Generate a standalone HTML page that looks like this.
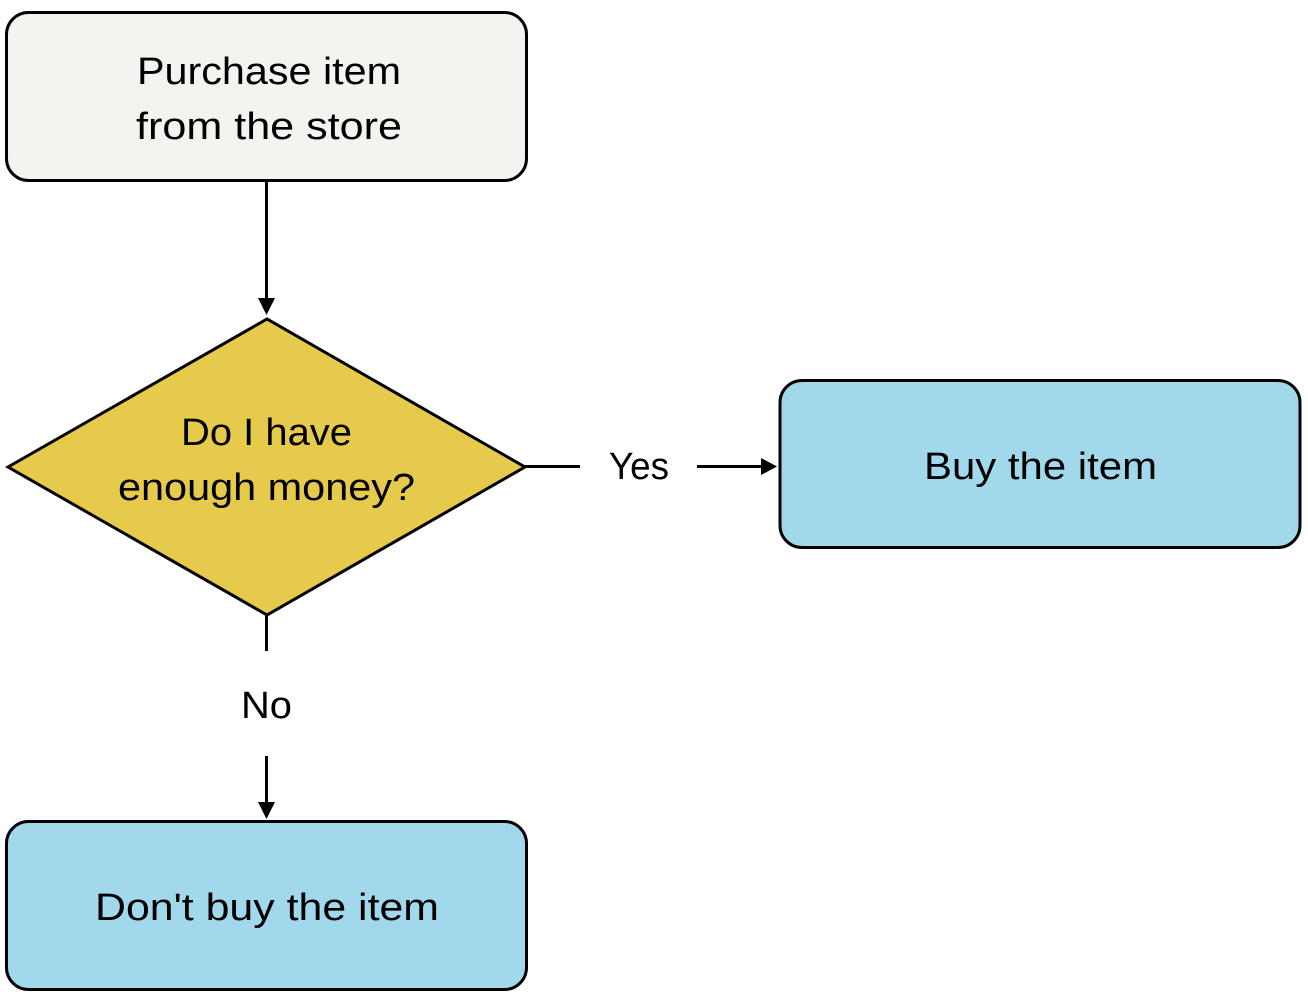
<!DOCTYPE html>
<html><head><meta charset="utf-8"><style>
html,body{margin:0;padding:0;background:#fff;}
svg{display:block;}
text{font-family:"Liberation Sans",sans-serif;font-size:38px;fill:#000;text-anchor:middle;}
</style></head><body>
<svg width="1308" height="1008" viewBox="0 0 1308 1008" xmlns="http://www.w3.org/2000/svg">
<rect x="6.5" y="12.5" width="520" height="168" rx="22" fill="#f3f4ef" stroke="#000" stroke-width="3"/>
<text x="269" y="84" textLength="264" lengthAdjust="spacingAndGlyphs">Purchase item</text>
<text x="269" y="139" textLength="266" lengthAdjust="spacingAndGlyphs">from the store</text>
<line x1="266.5" y1="181" x2="266.5" y2="300" stroke="#000" stroke-width="3"/>
<polygon points="258,298 275,298 266.5,315" fill="#000"/>
<polygon points="8,467 267,319 525,467 267,615" fill="#e5ca4b" stroke="#000" stroke-width="3" stroke-linejoin="miter"/>
<text x="266.5" y="445" textLength="171" lengthAdjust="spacingAndGlyphs">Do I have</text>
<text x="266.5" y="500" textLength="297" lengthAdjust="spacingAndGlyphs">enough money?</text>
<line x1="525" y1="466.5" x2="580" y2="466.5" stroke="#000" stroke-width="3"/>
<text x="639" y="479" textLength="60" lengthAdjust="spacingAndGlyphs">Yes</text>
<line x1="697" y1="466.5" x2="763" y2="466.5" stroke="#000" stroke-width="3"/>
<polygon points="761,458 777,466.5 761,475" fill="#000"/>
<rect x="780" y="380.5" width="520" height="167" rx="22" fill="#a2d8eb" stroke="#000" stroke-width="3"/>
<text x="1040.5" y="479" textLength="233" lengthAdjust="spacingAndGlyphs">Buy the item</text>
<line x1="266.5" y1="615" x2="266.5" y2="651" stroke="#000" stroke-width="3"/>
<text x="266.5" y="718" textLength="51" lengthAdjust="spacingAndGlyphs">No</text>
<line x1="266.5" y1="756" x2="266.5" y2="804" stroke="#000" stroke-width="3"/>
<polygon points="258,802 275,802 266.5,819" fill="#000"/>
<rect x="6.5" y="821.5" width="520" height="168" rx="22" fill="#a2d8eb" stroke="#000" stroke-width="3"/>
<text x="267" y="920" textLength="344" lengthAdjust="spacingAndGlyphs">Don't buy the item</text>
</svg>
</body></html>
